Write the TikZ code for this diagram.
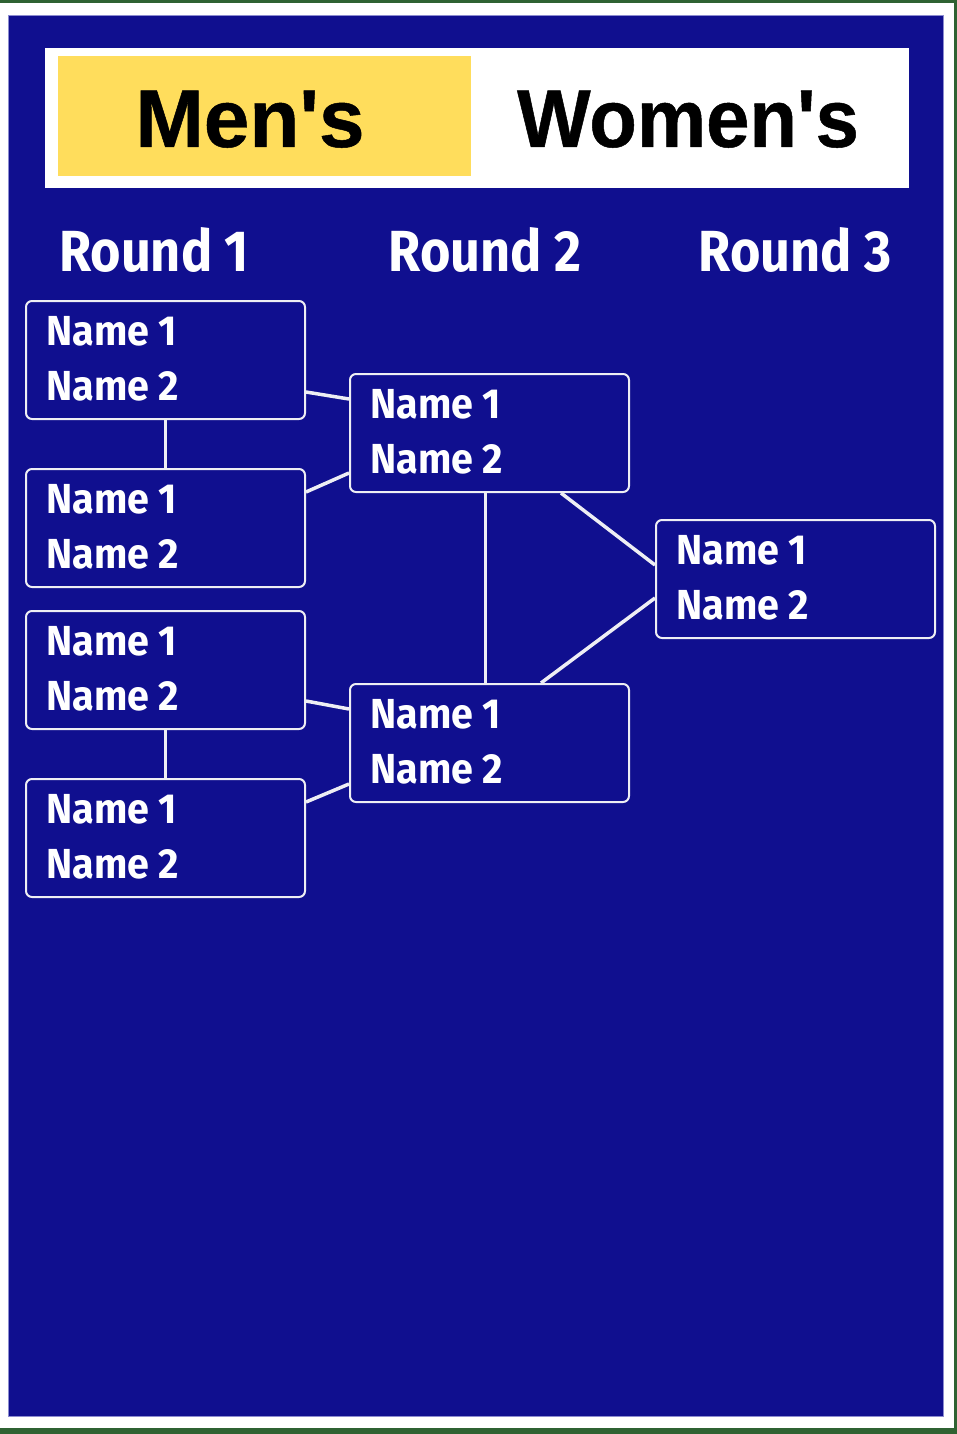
\documentclass[tikz,border=0pt]{standalone}
\usepackage{fontspec}
\newfontfamily\headfont[FakeBold=0.6]{Liberation Sans Bold}
\newfontfamily\womenfont[FakeBold=0.6,FakeStretch=0.95]{Liberation Sans Bold}
\newfontfamily\roundfont[FakeStretch=0.9]{Fira Sans Bold}
\newfontfamily\namefont[FakeStretch=0.94]{Fira Sans Bold}
\definecolor{bgblue}{HTML}{100F8F}
\definecolor{edgeblue}{HTML}{8C8CD0}
\definecolor{frame}{HTML}{2F6232}
\definecolor{tabyellow}{HTML}{FFDD5C}
\definecolor{linewhite}{HTML}{EEEEF4}
\tikzset{
  matchbox/.style={draw=linewhite, line width=2pt, rounded corners=6pt, minimum width=279pt, minimum height=118pt, inner sep=0pt, anchor=north west},
  nametext/.style={text=white, font=\namefont\fontsize{42}{42}\selectfont, anchor=base west, inner sep=0pt},
  roundtext/.style={text=white, font=\roundfont\fontsize{58}{58}\selectfont, anchor=base, inner sep=0pt},
  headtext/.style={text=black, font=\headfont\fontsize{82}{82}\selectfont, anchor=base, inner sep=0pt},
  conn/.style={draw=linewhite, line width=3.5pt}
}
\begin{document}
\begin{tikzpicture}[x=1pt,y=-1pt]
\useasboundingbox (0,0) rectangle (957,1434);
\fill[white] (0,0) rectangle (957,1434);
% green frame
\fill[frame] (0,0) rectangle (957,3);
\fill[frame] (954,0) rectangle (957,1434);
\fill[frame] (0,1428) rectangle (957,1434);
% blue panel
\fill[bgblue] (8,15) rectangle (943,1416);
\draw[edgeblue, line width=0.8pt] (8,15) rectangle (943,1416);
% header
\fill[white] (45,48) rectangle (909,188);
\fill[tabyellow] (58,56) rectangle (471,176);
\node[headtext] (mens) at (250,147) {Men's};
\node[headtext, font=\womenfont\fontsize{82}{82}\selectfont] (womens) at (688,147) {Women's};
% round labels
\node[roundtext] (rd1) at (154,271) {Round 1};
\node[roundtext] (rd2) at (485,271) {Round 2};
\node[roundtext] (rd3) at (795,271) {Round 3};
% boxes
\node[matchbox] (r1a) at (25,300) {};
\node[matchbox] (r1b) at (25,468) {};
\node[matchbox] (r1c) at (25,610) {};
\node[matchbox] (r1d) at (25,778) {};
\node[matchbox] (r2a) at (349,373) {};
\node[matchbox] (r2b) at (349,683) {};
\node[matchbox] (r3) at (655,519) {};
\foreach \b in {r1a,r1b,r1c,r1d,r2a,r2b,r3}{
  \node[nametext] (\b n1) at ([xshift=21pt,yshift=-45pt]\b.north west) {Name 1};
  \node[nametext] (\b n2) at ([xshift=21pt,yshift=-100pt]\b.north west) {Name 2};
}
% connectors
\draw[conn] (r1a.south) -- (r1b.north);
\draw[conn] (r1c.south) -- (r1d.north);
\draw[conn] ([yshift=28pt]r1a.south east) -- ([yshift=-26pt]r2a.north west);
\draw[conn] ([yshift=-24pt]r1b.north east) -- ([yshift=20pt]r2a.south west);
\draw[conn] ([yshift=29pt]r1c.south east) -- ([yshift=-26pt]r2b.north west);
\draw[conn] ([yshift=-24pt]r1d.north east) -- ([yshift=19pt]r2b.south west);
\draw[conn] ([xshift=-4pt]r2a.south) -- ([xshift=-4pt]r2b.north);
\draw[conn] ([xshift=-69pt]r2a.south east) -- ([yshift=-46pt]r3.north west);
\draw[conn] ([xshift=192pt]r2b.north west) -- ([yshift=41pt]r3.south west);
\end{tikzpicture}
\end{document}
